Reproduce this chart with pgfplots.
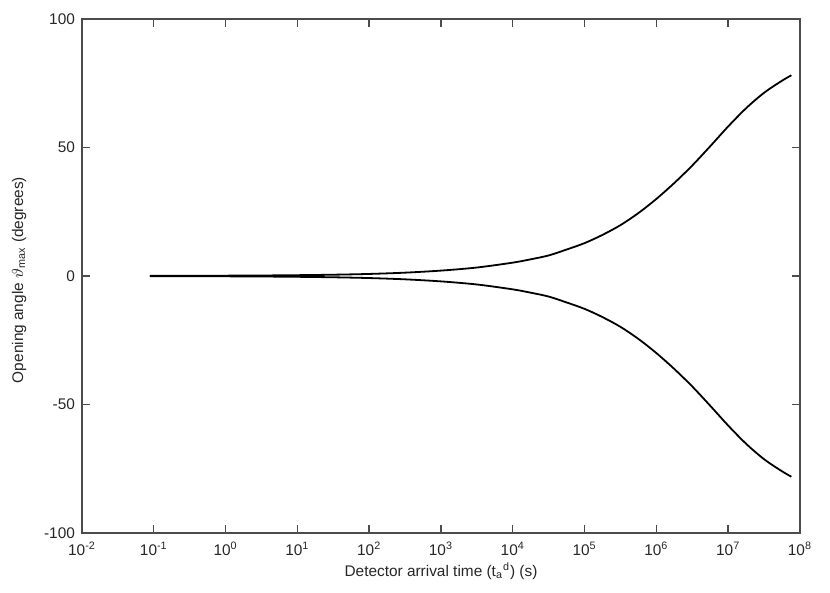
\documentclass[border=0pt]{standalone}
\usepackage{pgfplots}
\pgfplotsset{compat=1.18}
\usepackage{fontspec}
\setmainfont{Liberation Sans}

% upper branch, theta_max(t); lower branch is its mirror
\pgfplotstableread{
t          th
0.088      0.05
0.3162     0.08
1          0.13
3.162      0.2
10         0.32
31.62      0.5
100        0.8
316.2      1.3
1000       2.1
3162       3.3
1e4        5.2
17783      6.5
31623      8.0
56234      10.3
1e5        12.8
177828     16.0
316228     19.8
562341     24.5
1e6        30.0
1778279    36.2
3162278    43.0
5623413    50.5
1e7        58.2
17782794   65.3
31622777   71.3
56234133   76.0
75857758   78.1
}\branchup

\pgfplotstableread{
t          th
0.088      -0.05
0.3162     -0.08
1          -0.13
3.162      -0.2
10         -0.32
31.62      -0.5
100        -0.8
316.2      -1.3
1000       -2.1
3162       -3.3
1e4        -5.2
17783      -6.5
31623      -8.0
56234      -10.3
1e5        -12.8
177828     -16.0
316228     -19.8
562341     -24.5
1e6        -30.0
1778279    -36.2
3162278    -43.0
5623413    -50.5
1e7        -58.2
17782794   -65.3
31622777   -71.3
56234133   -76.0
75857758   -78.1
}\branchdown

\begin{document}
\begin{tikzpicture}
\begin{axis}[
    scale only axis,
    width=359pt, height=257pt,
    xmode=log,
    xmin=1e-2, xmax=1e8,
    ymin=-100, ymax=100,
    xtick={1e-2,1e-1,1,1e1,1e2,1e3,1e4,1e5,1e6,1e7,1e8},
    xticklabels={10\textsuperscript{-2},10\textsuperscript{-1},10\textsuperscript{0},10\textsuperscript{1},10\textsuperscript{2},10\textsuperscript{3},10\textsuperscript{4},10\textsuperscript{5},10\textsuperscript{6},10\textsuperscript{7},10\textsuperscript{8}},
    ytick={-100,-50,0,50,100},
    yticklabels={-100,-50,0,50,100},
    minor tick num=0,
    minor x tick style={draw=none},
    tick align=inside,
    major tick length=4pt,
    tick style={draw=black!70, line width=0.7pt},
    axis line style={draw=black!70, line width=0.8pt},
    every tick label/.style={font=\fontsize{7.7}{9}\selectfont, text=black!85},
    xticklabel style={yshift=-1pt},
    label style={font=\fontsize{7.7}{9}\selectfont, text=black!85},
    xlabel={Detector arrival time (t\textsubscript{a}\textsuperscript{d}) (s)},
    ylabel={Opening angle $\vartheta$\textsubscript{max} (degrees)},
    xlabel style={yshift=3pt},
    ylabel style={yshift=2pt, xshift=-2pt},
    clip=false,
]
\addplot[black, line width=0.9pt, smooth] table[x=t, y=th] {\branchup};
\addplot[black, line width=0.9pt, smooth] table[x=t, y=th] {\branchdown};
\coordinate (sw) at (rel axis cs:0,0);
\coordinate (ne) at (rel axis cs:1,1);
\end{axis}
\path ([shift={(-41pt,-30pt)}]sw) rectangle ([shift={(15pt,9.5pt)}]ne);
\end{tikzpicture}
\end{document}
